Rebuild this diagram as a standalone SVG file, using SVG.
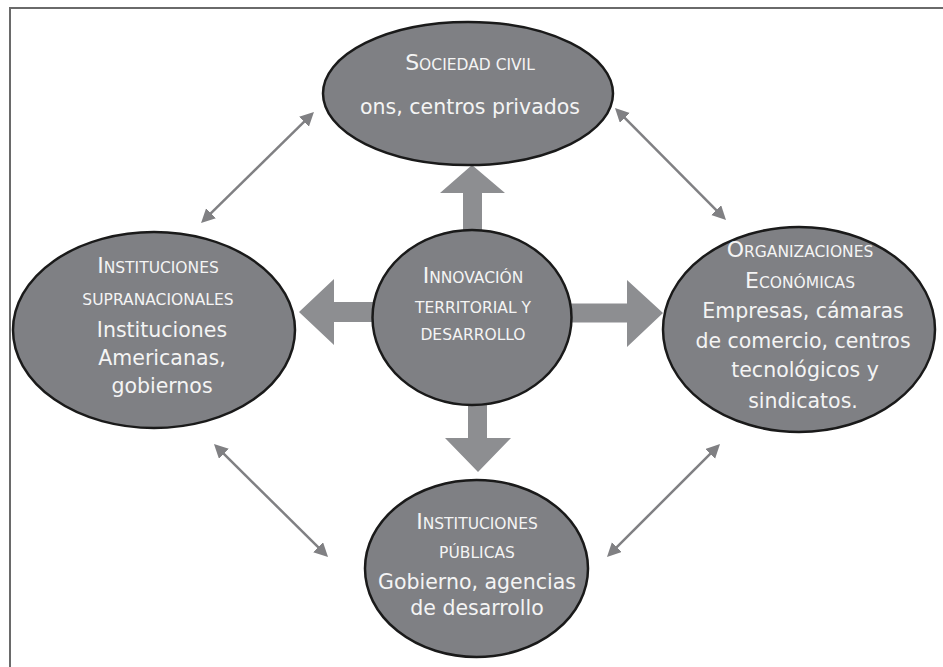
<svg xmlns="http://www.w3.org/2000/svg" width="943" height="667" viewBox="0 0 943 667">
<defs>
<style>
.frame{fill:none;stroke:#6a6a6a;stroke-width:2}
.node{fill:#7f8084;stroke:#1a1a1a;stroke-width:2.5}
.block{fill:#8d8e91}
.thin{stroke:#808083;stroke-width:2.5;fill:none;marker-start:url(#ah);marker-end:url(#ah)}
text{font-family:"DejaVu Sans","Liberation Sans",sans-serif;fill:#f4f4f4;text-anchor:middle}
.h{font-size:15.5px}
.cap{font-size:22px}
.b{font-size:20.5px}
</style>
<marker id="ah" markerUnits="userSpaceOnUse" markerWidth="16" markerHeight="16" refX="10" refY="7" orient="auto-start-reverse">
<path d="M0,0 L14,7 L0,14 z" fill="#808083"/>
</marker>
</defs>
<rect width="943" height="667" fill="#ffffff"/>
<path class="frame" d="M10,667 V8 H943"/>
<g id="connectors">
<path class="block" d="M299,312 L334,279 L334,302 L380,302 L380,322 L334,322 L334,345 Z"/>
<path class="block" d="M663,313 L627,280 L627,303.5 L565,303.5 L565,322.5 L627,322.5 L627,347 Z"/>
<path class="block" d="M472,165 L440,193 L463,193 L463,235 L482,235 L482,193 L505,193 Z"/>
<path class="block" d="M478,472 L445,438 L468,438 L468,400 L487,400 L487,438 L511,438 Z"/>
<line class="thin" x1="203.9" y1="220.2" x2="311.1" y2="114.8"/>
<line class="thin" x1="617.8" y1="110.8" x2="723.2" y2="217.2"/>
<line class="thin" x1="216.8" y1="446.8" x2="325.2" y2="554.2"/>
<line class="thin" x1="717.2" y1="446.8" x2="609.8" y2="554.2"/>
</g>
<g id="sociedad">
<ellipse class="node" cx="468" cy="93.5" rx="145" ry="71.5"/>
<text x="470" y="70" class="h"><tspan class="cap">S</tspan>OCIEDAD CIVIL</text>
<text x="470" y="114" class="b">ons, centros privados</text>
</g>
<g id="supranacionales">
<ellipse class="node" cx="154" cy="330" rx="141" ry="98"/>
<text x="158" y="273" class="h"><tspan class="cap">I</tspan>NSTITUCIONES</text>
<text x="158" y="305" class="h">SUPRANACIONALES</text>
<text x="162" y="337" class="b">Instituciones</text>
<text x="162" y="365" class="b">Americanas,</text>
<text x="162" y="393" class="b">gobiernos</text>
</g>
<g id="innovacion">
<ellipse class="node" cx="472" cy="317.5" rx="99.5" ry="87.5"/>
<text x="473" y="283" class="h"><tspan class="cap">I</tspan>NNOVACIÓN</text>
<text x="473" y="313" class="h">TERRITORIAL Y</text>
<text x="473" y="340" class="h">DESARROLLO</text>
</g>
<g id="economicas">
<ellipse class="node" cx="799" cy="329.5" rx="136" ry="102.5"/>
<text x="800" y="257" class="h"><tspan class="cap">O</tspan>RGANIZACIONES</text>
<text x="800" y="288" class="h"><tspan class="cap">E</tspan>CONÓMICAS</text>
<text x="803" y="318" class="b">Empresas, cámaras</text>
<text x="803" y="348" class="b">de comercio, centros</text>
<text x="805" y="377" class="b">tecnológicos y</text>
<text x="803" y="408" class="b">sindicatos.</text>
</g>
<g id="publicas">
<ellipse class="node" cx="476.5" cy="568.5" rx="111.5" ry="88.5"/>
<text x="477" y="529" class="h"><tspan class="cap">I</tspan>NSTITUCIONES</text>
<text x="477" y="558" class="h">PÚBLICAS</text>
<text x="477" y="589" class="b">Gobierno, agencias</text>
<text x="477" y="615" class="b">de desarrollo</text>
</g>
</svg>
